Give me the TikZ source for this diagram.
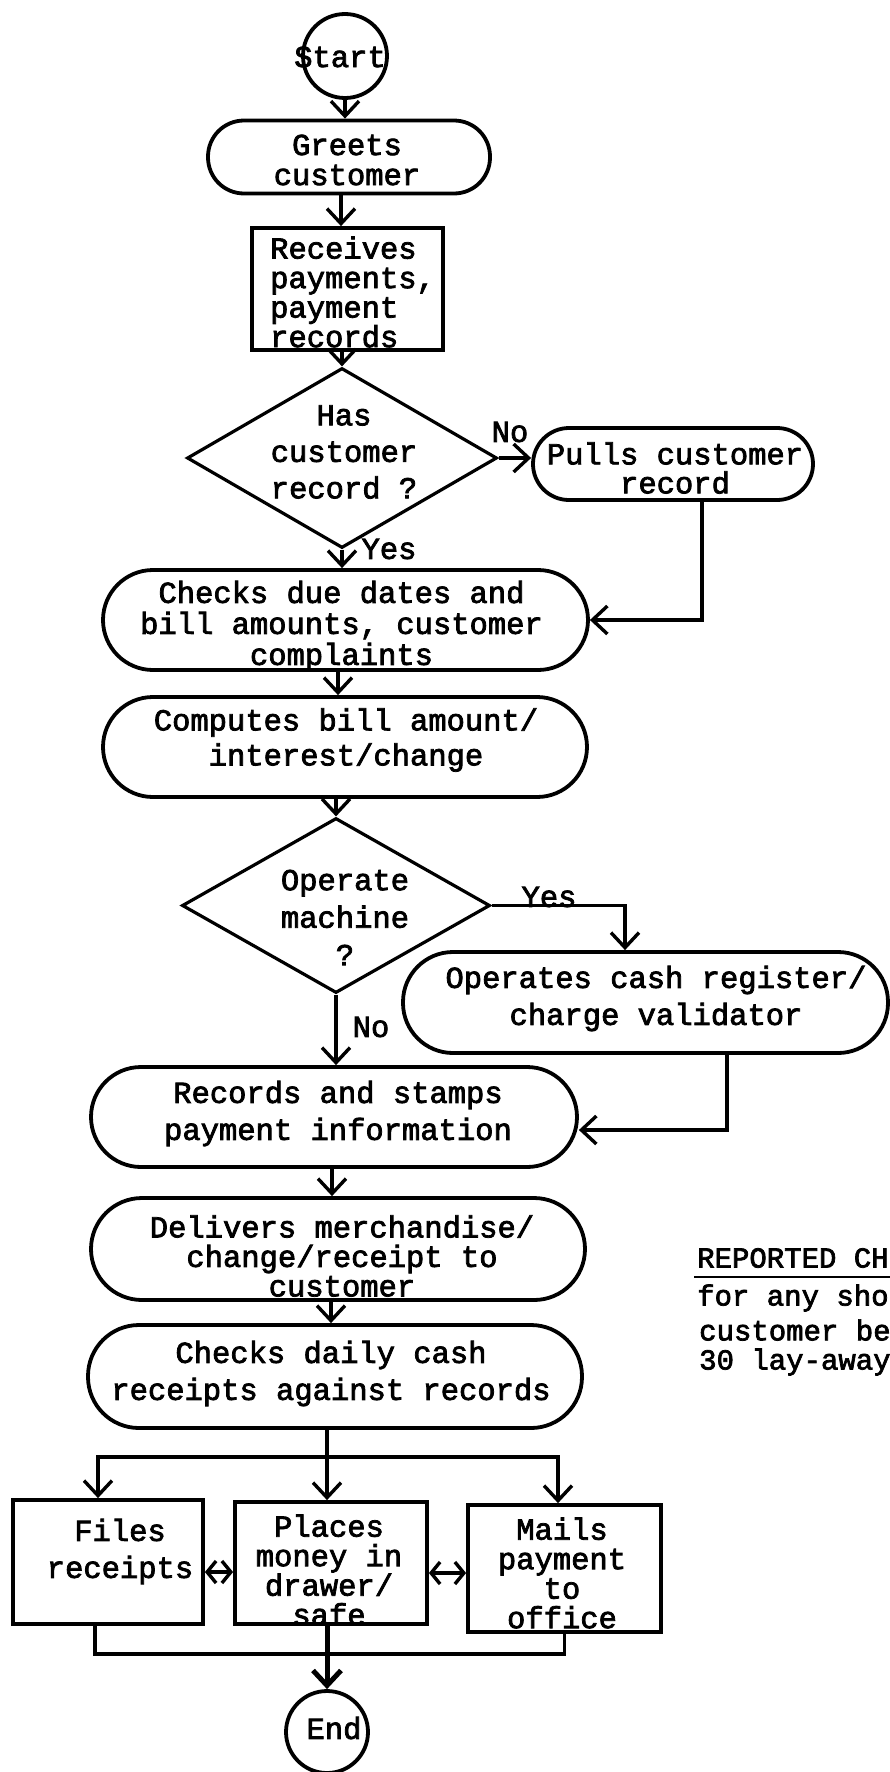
\documentclass[tikz,border=0pt]{standalone}
\usepackage{fontspec}
\usetikzlibrary{arrows.meta,shapes.geometric,calc}
\newfontfamily\typew{Liberation Mono}[FakeBold=2.5]

\tikzset{
  shp/.style={draw, line width=3.8pt, inner sep=0pt},
  pill/.style={shp, rectangle, rounded corners=#1},
  boxed/.style={shp, rectangle},
  decision/.style={draw, line width=3.2pt, diamond, inner sep=0pt},
  terminal/.style={shp, circle},
  txt/.style={font=\typew\fontsize{30.5}{#1}\selectfont, align=center, inner sep=0pt},
  txt/.default=36,
  flow/.style={line width=3.4pt, -{Straight Barb[length=15pt,width=28pt]}},
  twoway/.style={line width=3.4pt, {Straight Barb[length=9pt,width=22pt]}-{Straight Barb[length=9pt,width=22pt]}},
  wire/.style={line width=3.4pt},
}

\begin{document}
\begin{tikzpicture}[x=1pt,y=-1pt]
\useasboundingbox (0,0) rectangle (890,1772);

% --- flow column ---
\node[terminal, minimum size=84pt] (start) at (345,56) {};
\node[txt] (start-t) at (340,57) {Start};

\node[pill=36pt, minimum width=282pt, minimum height=73pt] (greets) at (349,157) {};
\node[txt=30] (greets-t) at (347,160) {Greets\\customer};

\node[boxed, minimum width=191pt, minimum height=122pt] (receives) at (347.5,289) {};
\node[txt=29.5, align=left, anchor=west] (receives-t) at (270,292) {Receives\\payments,\\payment\\records};

\node[decision, minimum width=310pt, minimum height=180pt] (hasrec) at (342,458) {};
\node[txt=36.5] (hasrec-t) at (344,452) {Has\\customer\\record ?};
\node[txt] (no1) at (510,432) {No};

\node[pill=36pt, minimum width=280pt, minimum height=72pt] (pulls) at (673,464) {};
\node[txt=29] (pulls-t) at (675,468) {Pulls customer\\record};
\node[txt] (yes1) at (389,549) {Yes};

\node[pill=50pt, minimum width=485pt, minimum height=100pt] (checks) at (345.5,620) {};
\node[txt=31] (checks-t) at (341.5,626) {Checks due dates and\\bill amounts, customer\\complaints};

\node[pill=50pt, minimum width=484pt, minimum height=100pt] (computes) at (345,747) {};
\node[txt=35] (computes-t) at (346,740) {Computes bill amount/\\interest/change};

\node[decision, minimum width=308pt, minimum height=175pt] (machine) at (336,905.5) {};
\node[txt=37.5] (machine-t) at (345,917.5) {Operate\\machine\\?};
\node[txt] (yes2) at (549,897) {Yes};

\node[pill=50pt, minimum width=485pt, minimum height=101pt] (operates) at (645.5,1002.5) {};
\node[txt=37] (operates-t) at (656,998.5) {Operates cash register/\\charge validator};
\node[txt] (no2) at (371,1027) {No};

\node[pill=50pt, minimum width=486pt, minimum height=100pt] (records) at (334,1117) {};
\node[txt=37] (records-t) at (338,1113.5) {Records and stamps\\payment information};

\node[pill=51pt, minimum width=494pt, minimum height=102pt] (delivers) at (338,1249) {};
\node[txt=29.5] (delivers-t) at (342,1256) {Delivers merchandise/\\change/receipt to\\customer};

\node[pill=51pt, minimum width=494pt, minimum height=103pt] (daily) at (335,1376.5) {};
\node[txt=37] (daily-t) at (331,1373.5) {Checks daily cash\\receipts against records};

\node[boxed, minimum width=190pt, minimum height=124pt] (files) at (108,1562) {};
\node[txt=37] (files-t) at (120,1551.5) {Files\\receipts};

\node[boxed, minimum width=192pt, minimum height=122pt] (places) at (331,1563) {};
\node[txt=29.5] (places-t) at (329,1570) {Places\\money in\\drawer/\\safe};

\node[boxed, minimum width=193pt, minimum height=127pt] (mails) at (564.5,1568.5) {};
\node[txt=29.5] (mails-t) at (562,1573) {Mails\\payment\\to\\office};

\node[terminal, minimum size=82pt] (end) at (327,1732) {};
\node[txt] (end-t) at (334,1728) {End};

% --- connectors ---
\draw[flow] (start.south) -- (start.south |- greets.north);
\draw[flow] ([xshift=-8pt]greets.south) -- ([xshift=-8pt]greets.south |- receives.north);
\draw[flow] (hasrec.north |- receives.south) -- (hasrec.north);
\draw[flow] (hasrec.east) -- (hasrec.east -| pulls.west);
\draw[flow] (hasrec.south) -- (hasrec.south |- checks.north);
\draw[flow] ([xshift=29pt]pulls.south) |- (checks.east);
\draw[flow] ([xshift=-7.5pt]checks.south) -- ([xshift=-7.5pt]checks.south |- computes.north);
\draw[flow] (machine.north |- computes.south) -- (machine.north);
\draw[flow] (machine.east) -| ([xshift=-20.5pt]operates.north);
\draw[flow] (machine.south) -- (machine.south |- records.north);
\draw[flow] ([xshift=81.5pt]operates.south) |- ([yshift=-13pt]records.east);
\draw[flow] ([xshift=-2pt]records.south) -- ([xshift=-2pt]records.south |- delivers.north);
\draw[flow] ([xshift=-7pt]delivers.south) -- ([xshift=-7pt]delivers.south |- daily.north);

\coordinate (split) at (327,1457);
\draw[flow] ([xshift=-8pt]daily.south) -- ([xshift=-4pt]places.north);
\draw[flow] (split) -| ([xshift=-10pt]files.north);
\draw[flow] (split) -| ([xshift=-6.5pt]mails.north);
\draw[twoway] ([yshift=-10pt]files.east) -- ([yshift=-10pt]files.east -| places.west);
\draw[twoway] ([yshift=-10pt]places.east) -- ([yshift=-10pt]places.east -| mails.west);
\draw[wire] ([xshift=-13pt]files.south) -- ++(0,28) -| (mails.south);
\draw[flow, line width=5pt] ([xshift=-4pt]places.south) -- (end.north);

% --- side note, running off the right edge ---
\begin{scope}
\clip (0,0) rectangle (890,1772);
\tikzset{note/.style={font=\typew\fontsize{29}{34}\selectfont, inner sep=0pt, anchor=west}}
\node[note] (note1) at (697,1258) {REPORTED CH};
\draw[line width=2.5pt] (694,1277) -- (890,1277);
\node[note] (note2) at (697,1298) {for any sho};
\node[note] (note3) at (699,1330) {customer be};
\node[note] (note4) at (699,1362) {30 lay-away};
\end{scope}
\end{tikzpicture}
\end{document}
